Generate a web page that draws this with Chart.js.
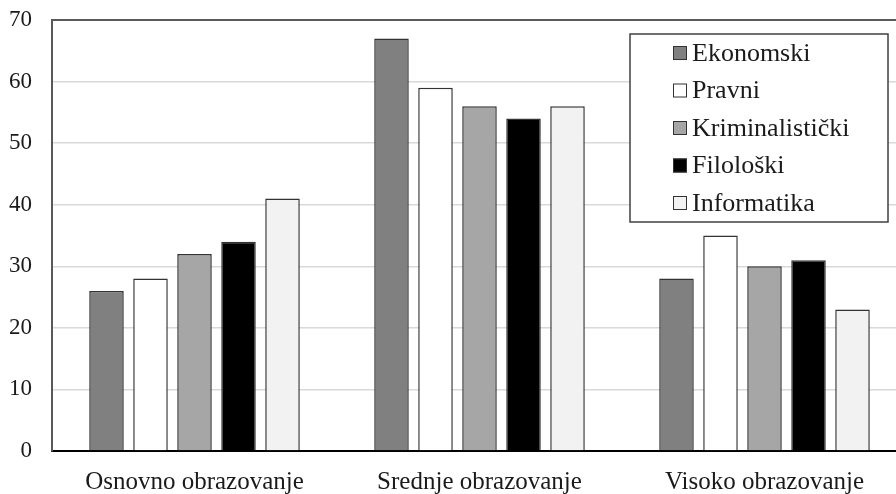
<!DOCTYPE html>
<html>
<head>
<meta charset="utf-8">
<script src="https://cdn.jsdelivr.net/npm/chart.js@4/dist/chart.umd.min.js"></script>
<style>
html,body{margin:0;padding:0;background:#fff;overflow:hidden;}
#wrap{width:907px;height:494px;position:relative;}
</style>
</head>
<body>
<div id="wrap"><canvas id="c" width="907" height="494"></canvas></div>
<script>
const categories = ["Osnovno obrazovanje", "Srednje obrazovanje", "Visoko obrazovanje"];
const seriesNames = ["Ekonomski", "Pravni", "Kriminalistički", "Filološki", "Informatika"];
const ekonomski = [26, 67, 28];
const pravni = [28, 59, 35];
const kriminalisticki = [32, 56, 30];
const filoloski = [34, 54, 31];
const informatika = [41, 56, 23];
const yTicks = [0, 10, 20, 30, 40, 50, 60, 70];
const colors = ["#808080", "#ffffff", "#a6a6a6", "#000000", "#f2f2f2"];

const FONT = "'Liberation Serif', 'DejaVu Serif', serif";
const values = [ekonomski, pravni, kriminalisticki, filoloski, informatika];

const legendPlugin = {
  id: 'boxLegend',
  afterDraw(chart) {
    const ctx = chart.ctx;
    ctx.save();
    const ca = chart.chartArea;
    ctx.strokeStyle = '#595959';
    ctx.lineWidth = 2;
    ctx.beginPath();
    ctx.moveTo(ca.left - 1, ca.top);
    ctx.lineTo(ca.right, ca.top);
    ctx.stroke();
    const bx = 630, by = 34, bw = 258, bh = 188;
    ctx.fillStyle = '#ffffff';
    ctx.fillRect(bx, by, bw, bh);
    ctx.strokeStyle = '#404040';
    ctx.lineWidth = 1.5;
    ctx.strokeRect(bx, by, bw, bh);
    ctx.font = "26px " + FONT;
    ctx.textBaseline = 'middle';
    ctx.textAlign = 'left';
    chart.data.datasets.forEach((ds, i) => {
      const cy = 53 + i * 37.5;
      ctx.fillStyle = ds.backgroundColor;
      ctx.fillRect(673, cy - 7, 14, 14);
      ctx.strokeStyle = '#333333';
      ctx.lineWidth = 1;
      ctx.strokeRect(673.5, cy - 6.5, 13, 13);
      ctx.fillStyle = '#1a1a1a';
      ctx.fillText(ds.label, 692, cy + 1);
    });
    ctx.restore();
  }
};

new Chart(document.getElementById('c'), {
  type: 'bar',
  data: {
    labels: categories,
    datasets: seriesNames.map((n, i) => ({
      label: n,
      data: values[i],
      backgroundColor: colors[i],
      borderColor: '#333333',
      borderWidth: 1.5,
      categoryPercentage: 0.772,
      barPercentage: 0.785
    }))
  },
  options: {
    responsive: false,
    animation: false,
    events: [],
    layout: { padding: { top: 20, left: 0, right: 0, bottom: 0 } },
    plugins: { legend: { display: false }, tooltip: { enabled: false } },
    scales: {
      x: {
        grid: { display: false, drawTicks: false },
        border: { display: true, color: '#000000', width: 2 },
        ticks: { color: '#1a1a1a', font: { family: FONT, size: 25 }, padding: 16, maxRotation: 0 },
        afterFit(scale) { scale.height = 43; scale.paddingLeft = 0; scale.paddingRight = 0; }
      },
      y: {
        min: 0, max: 70,
        afterBuildTicks(scale) { scale.ticks = yTicks.map(v => ({ value: v })); },
        grid: { color: (c) => (c.tick && (c.tick.value === 0 || c.tick.value === 70)) ? 'rgba(0,0,0,0)' : '#d9d9d9', lineWidth: 1.5, drawTicks: false },
        border: { display: true, color: '#595959', width: 2 },
        ticks: { color: '#1a1a1a', font: { family: FONT, size: 23 }, padding: 20 },
        afterFit(scale) { scale.width = 52; scale.paddingTop = 0; scale.paddingBottom = 0; }
      }
    }
  },
  plugins: [legendPlugin]
});
</script>
</body>
</html>
